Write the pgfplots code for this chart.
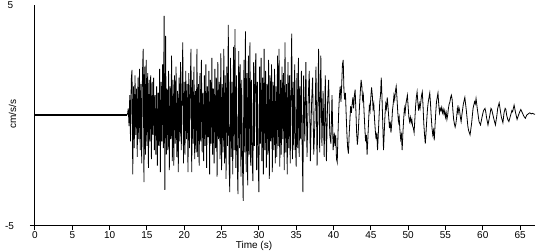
\documentclass[border=0pt]{standalone}
\usepackage{pgfplots}
\pgfplotsset{compat=1.18}
\usepackage{pgfplotstable}
\usepackage{fontspec}
\setmainfont{Liberation Sans}
\pgfplotstableread{
t a
0 0
12.3 0
12.4 0.05
12.5 0.3
12.6 -0.5
12.7 0.9
12.8 -1.2
12.9 1.6
13.0 2.05
13.1 -2.7
13.2 1.3
13.3 -1.5
13.4 1.8
13.5 -0.9
13.6 1.2
13.7 -1.9
13.8 1.7
13.9 -1.1
14.0 2.1
14.1 -1.6
14.2 1.4
14.3 -2.2
14.4 1.9
14.5 3.0
14.6 -3.05
14.7 2.2
14.8 -1.8
14.9 2.5
15.0 -1.4
15.1 1.9
15.2 -2.4
15.3 1.6
15.4 -1.2
15.5 1.8
15.6 -2.0
15.7 1.5
15.8 -0.9
15.9 1.7
16.0 -1.6
16.1 0.9
16.2 -1.8
16.3 1.3
16.4 -2.3
16.5 1.0
16.6 -1.4
16.7 2.1
16.8 -2.6
16.9 1.5
17.0 -1.2
17.1 2.3
17.2 -1.5
17.3 4.5
17.4 -3.4
17.5 3.6
17.6 -1.8
17.7 1.2
17.8 -1.6
17.9 2.0
18.0 -2.5
18.1 1.3
18.2 -1.1
18.3 2.7
18.4 -2.1
18.5 1.6
18.6 -2.3
18.7 1.8
18.8 -1.3
18.9 2.2
19.0 -1.9
19.1 1.1
19.2 -2.6
19.3 1.7
19.4 -1.2
19.5 2.4
19.6 -1.6
19.7 1.0
19.8 3.3
19.9 -2.2
20.0 1.5
20.1 -1.8
20.2 2.0
20.3 -1.1
20.4 1.4
20.5 -2.6
20.6 1.9
20.7 -1.5
20.8 1.2
20.9 3.0
21.0 -2.6
21.1 1.6
21.2 -1.3
21.3 2.2
21.4 -2.0
21.5 1.1
21.6 -1.7
21.7 3.0
21.8 -1.9
21.9 1.4
22.0 -2.3
22.1 1.9
22.2 -1.2
22.3 2.5
22.4 -1.7
22.5 1.0
22.6 -2.1
22.7 1.8
22.8 -1.4
22.9 2.3
23.0 -2.4
23.1 1.3
23.2 -1.0
23.3 2.0
23.4 -2.7
23.5 1.6
23.6 -1.3
23.7 2.6
23.8 -1.8
23.9 1.2
24.0 -2.2
24.1 2.1
24.2 -1.5
24.3 1.7
24.4 -2.8
24.5 2.4
24.6 -1.1
24.7 1.5
24.8 -2.0
24.9 2.8
25.0 -2.5
25.1 1.4
25.2 -1.7
25.3 3.0
25.4 -2.2
25.5 1.8
25.6 -2.9
25.7 2.2
25.8 -1.4
25.9 4.1
26.0 -2.0
26.1 -3.5
26.2 2.6
26.3 -1.9
26.4 1.5
26.5 -2.7
26.6 3.1
26.7 -1.6
26.8 3.9
26.9 -2.4
27.0 1.8
27.1 -2.1
27.2 -3.6
27.3 2.9
27.4 -1.5
27.5 2.3
27.6 -2.8
27.7 1.6
27.8 -2.2
27.9 -3.9
28.0 2.5
28.1 -1.7
28.2 3.8
28.3 -2.6
28.4 1.9
28.5 -3.2
28.6 2.7
28.7 -1.8
28.8 3.3
28.9 -2.3
29.0 1.6
29.1 -2.0
29.2 -3.0
29.3 2.4
29.4 -1.4
29.5 1.9
29.6 2.8
29.7 -2.5
29.8 1.5
29.9 -1.9
30.0 -3.5
30.1 2.2
30.2 -1.3
30.3 2.6
30.4 -2.1
30.5 1.7
30.6 -2.7
30.7 3.0
30.8 -1.6
30.9 2.0
31.0 -2.4
31.1 1.4
31.2 -1.8
31.3 2.5
31.4 -2.9
31.5 1.8
31.6 -1.2
31.7 2.3
31.8 -2.6
31.9 1.5
32.0 -1.6
32.1 2.1
32.2 -2.2
32.3 1.3
32.4 -1.9
32.5 2.7
32.6 -1.4
32.7 3.0
32.8 -2.35
32.9 1.6
33.0 -1.8
33.1 2.2
33.2 -1.1
33.3 1.9
33.4 -2.5
33.5 3.3
33.6 -1.7
33.7 1.4
33.8 -2.7
33.9 2.4
34.0 -1.5
34.1 1.8
34.2 -2.2
34.3 1.2
34.4 3.7
34.5 -2.0
34.6 1.5
34.7 -1.6
34.8 2.3
34.9 -1.3
35.0 -2.35
35.1 1.9
35.2 -1.5
35.3 2.6
35.4 -1.9
35.5 1.3
35.6 -1.1
35.7 2.0
35.8 -1.4
35.9 -3.5
36.0 1.8
36.15 -1.2
36.3 2.4
36.45 -1.9
36.6 0.6
36.75 2.0
36.9 -2.1
37.05 0.4
37.2 1.7
37.35 -1.8
37.5 -0.4
37.65 2.2
37.8 -2.3
38.0 3.0
38.15 -1.7
38.3 2.7
38.45 -1.4
38.6 1.1
38.75 -1.9
38.9 1.8
39.05 -2.1
39.2 0.5
39.35 1.6
39.5 -0.9
39.65 -1.3
39.8 0.9
39.95 -1.6
40.1 -0.8
40.2 -1.4
40.3 -0.9
40.4 -2.0
40.5 -2.15
40.6 -0.9
40.7 0.2
40.8 0.9
40.9 1.3
41.0 0.6
41.1 1.4
41.2 2.3
41.3 2.5
41.4 1.1
41.5 0.7
41.6 1.0
41.7 0.0
41.8 -0.9
41.9 -1.5
42.0 -1.75
42.1 -0.9
42.2 -0.2
42.3 0.4
42.4 0.1
42.5 0.5
42.6 0.8
42.7 0.3
42.8 0.9
42.9 1.15
43.0 0.2
43.1 -0.8
43.2 -1.35
43.3 -0.9
43.4 -0.2
43.5 0.5
43.6 1.1
43.7 1.6
43.8 1.3
43.9 0.7
44.0 0.9
44.1 0.1
44.2 -0.6
44.3 -1.2
44.4 -0.9
44.5 -1.8
44.6 -1.1
44.7 -0.3
44.8 0.4
44.9 0.2
45.0 0.8
45.1 1.25
45.2 0.9
45.3 0.3
45.4 0.5
45.5 -0.2
45.6 -0.7
45.7 -1.1
45.8 -0.8
45.9 -1.6
46.0 -0.9
46.1 -0.1
46.2 0.6
46.3 0.9
46.4 1.7
46.5 0.8
46.6 -0.4
46.7 -1.6
46.8 -0.8
46.9 0.0
47.0 0.5
47.1 0.3
47.2 0.8
47.3 0.4
47.4 -0.1
47.5 -0.6
47.6 -0.3
47.7 -0.8
47.8 -0.4
47.9 0.2
48.0 0.5
48.1 0.9
48.2 0.7
48.3 1.1
48.4 1.3
48.5 0.8
48.6 0.2
48.7 -0.3
48.8 -0.1
48.9 -0.7
49.0 -1.1
49.1 -0.9
49.2 -1.6
49.3 -0.8
49.4 -0.2
49.5 0.3
49.6 0.1
49.7 0.5
49.8 0.7
49.9 0.9
50.0 0.4
50.1 -0.1
50.2 -0.3
50.3 -0.1
50.4 -0.35
50.5 -0.2
50.6 -0.5
50.7 -0.6
50.8 -0.8
50.9 -0.2
51.0 0.4
51.1 0.8
51.2 1.05
51.3 0.6
51.4 0.2
51.5 0.5
51.6 0.3
51.7 0.6
51.8 0.9
51.9 1.05
52.0 0.4
52.1 -0.4
52.2 -0.9
52.3 -1.3
52.4 -0.8
52.5 -0.2
52.6 0.3
52.7 0.6
52.8 0.8
52.9 1.0
53.0 0.5
53.1 -0.1
53.2 -0.6
53.3 -0.9
53.4 -0.7
53.5 -1.15
53.6 -0.5
53.7 0.1
53.8 0.6
53.9 0.8
54.0 1.0
54.1 0.5
54.2 0.1
54.3 0.3
54.4 0.2
54.5 0.35
54.6 0.1
54.7 0.25
54.8 0.05
54.9 0.2
55.0 -0.1
55.1 0.1
55.2 -0.2
55.3 0.0
55.4 0.3
55.5 0.5
55.6 0.6
55.7 0.8
55.8 0.9
55.9 0.7
56.0 0.2
56.1 -0.2
56.2 -0.4
56.3 -0.55
56.4 -0.4
56.5 -0.1
56.6 0.3
56.7 0.1
56.8 0.35
56.9 0.2
57.0 -0.1
57.1 -0.3
57.2 0.0
57.4 0.5
57.6 0.8
57.8 0.2
58.0 -0.5
58.1 -0.7
58.3 -0.9
58.5 -0.4
58.7 0.3
58.9 0.6
59.0 0.5
59.1 0.75
59.3 0.2
59.5 -0.3
59.7 -0.45
59.9 -0.1
60.1 0.2
60.3 0.3
60.4 0.15
60.5 -0.1
60.7 -0.45
60.9 -0.1
61.1 0.3
61.2 0.25
61.3 0.1
61.5 -0.2
61.7 -0.45
61.9 0.0
62.0 0.3
62.2 0.55
62.4 0.1
62.5 -0.1
62.7 -0.35
62.85 0.1
63.0 0.3
63.1 0.25
63.2 0.0
63.35 -0.2
63.5 -0.3
63.7 -0.05
63.9 0.2
64.0 0.15
64.2 0.45
64.4 0.1
64.6 -0.2
64.8 0.0
64.9 0.1
65.1 0.25
65.3 0.1
65.5 -0.05
65.7 -0.15
65.9 0.0
66.1 0.05
66.3 0.1
66.5 0.05
66.7 0.08
66.8 0.05
67.0 0.03
}\accel
\begin{document}
\fontsize{10}{12}\selectfont
\begin{tikzpicture}
\path[use as bounding box] (0,0) rectangle (550pt,250pt);
\begin{axis}[
  at={(35pt,25pt)}, anchor=south west,
  scale only axis, width=500pt, height=220pt,
  xmin=0, xmax=67, ymin=-5, ymax=5,
  axis x line=bottom, axis y line=left,
  axis line style={-, line width=1pt, black},
  xtick={0,5,...,65}, ytick=\empty,
  xtick align=outside, major tick length=5pt,
  tick style={black, line width=1pt},
  xticklabel style={font=\fontsize{10}{12}\selectfont, /pgf/number format/assume math mode=true, inner sep=1pt},
  clip=false,
]
\addplot[black, line width=0.8pt] table[x=t, y=a] {\accel};
\addplot[black, line width=1.4pt, restrict x to domain=0:12.3] table[x=t, y=a] {\accel};
\draw[line width=1pt] (axis cs:-0.67,-5) -- (axis cs:0,-5);
\end{axis}
\node at (10.5pt,245pt) {5};
\node at (9.5pt,24pt) {-5};
\node[rotate=90] at (12.5pt,136pt) {cm/s/s};
\node at (254pt,4.5pt) {Time (s)};
\end{tikzpicture}
\end{document}
